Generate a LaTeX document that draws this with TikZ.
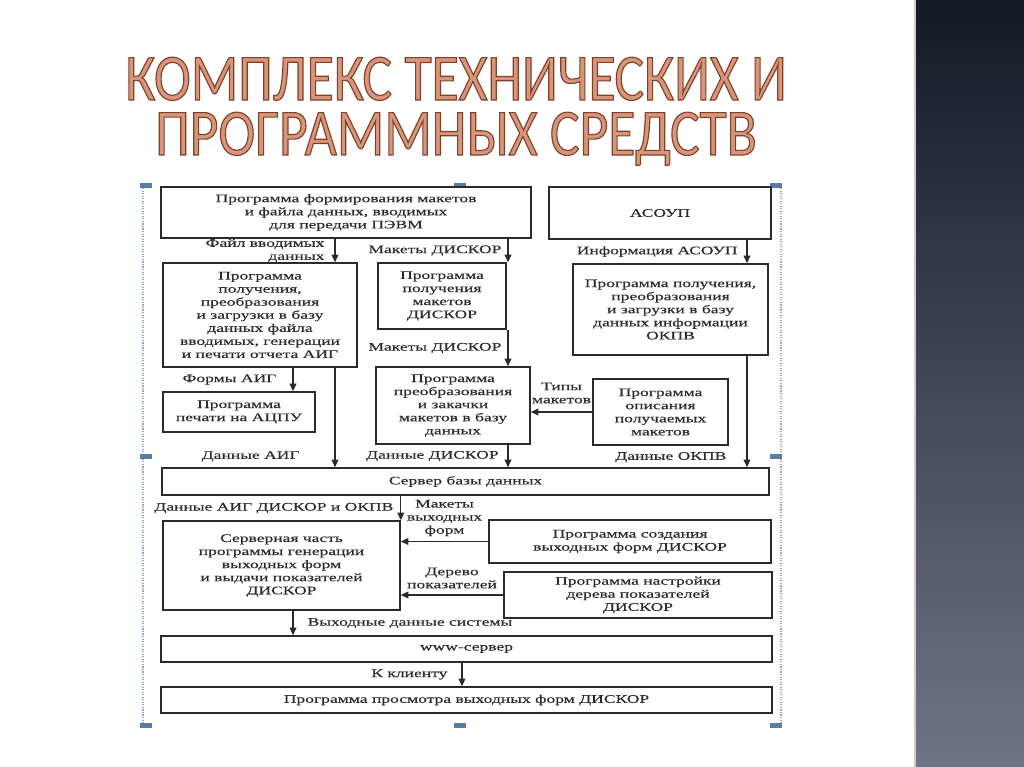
\documentclass[tikz,border=0pt]{standalone}
\usepackage{fontspec}
\usepackage{xcolor}
\usetikzlibrary{arrows.meta,calc,positioning}
\newfontfamily\scanfont[FakeStretch=1.52,FakeBold=0.3]{Liberation Serif}
\newfontfamily\titlefont[FakeStretch=0.84]{Carlito}
\definecolor{Ink}{HTML}{2B2B2B}
\definecolor{Copper}{HTML}{D9957A}
\definecolor{Handle}{HTML}{5A7DA6}
\definecolor{Frame}{HTML}{8FA8C8}
\definecolor{BandTop}{HTML}{141924}
\definecolor{BandBot}{HTML}{707485}
% outlined title letters: fill, then a thin dark brown stroke
\newcommand{\outlined}[1]{\special{pdf:literal direct 2 Tr 0.8 w 0.49 0.25 0.16 RG}#1\special{pdf:literal direct 0 Tr}}

\begin{document}
\begin{tikzpicture}[
  x=0.025cm,y=-0.025cm,
  box/.style={draw=Ink,line width=1.1pt,fill=white,align=center,inner sep=1pt,
    text=Ink,font=\scanfont\fontsize{8.2}{9.3}\selectfont},
  lbl/.style={inner sep=0pt,text=Ink,font=\scanfont\fontsize{8.2}{9.3}\selectfont},
  edge/.style={-{Triangle[length=1.9mm,width=1.7mm]},line width=0.85pt,draw=Ink},
  title/.style={anchor=base,inner sep=0pt,align=center,text=Copper,
    font=\titlefont\fontsize{47}{39.1}\selectfont},
  handle/.style={fill=Handle,draw=none},
  frame/.style={densely dotted,line width=0.8pt,draw=Frame}
]
\useasboundingbox (0,0) rectangle (1024,767);

% Slide: dark band and title.
\shade[top color=BandTop,bottom color=BandBot] (915,0) rectangle (1024,767);
\draw[gray!40,line width=1pt] (915,0) -- (915,767);
\node[title] (heading) at (456,155)
  {\outlined{КОМПЛЕКС ТЕХНИЧЕСКИХ И}\\\outlined{ПРОГРАММНЫХ СРЕДСТВ}};

% Selection frame round the scan.
\draw[frame] (143,188) -- (143,723);
\draw[frame] (781,188) -- (781,723);
\foreach \hx/\hy in {146/185.5,460/185.5,776/185.5,146/456.5,776/456.5,146/725.5,460/725.5,776/725.5}
  \fill[handle] (\hx-6,\hy-2.5) rectangle (\hx+6,\hy+2.5);

% Columns of the vertical connectors.
\coordinate (c1) at (293,0);
\coordinate (c2) at (335,0);
\coordinate (c3) at (508,0);
\coordinate (c4) at (747,0);
\coordinate (c6) at (462,0);

% Upper row: sources of data.
\node[box,minimum width=9.25cm,minimum height=1.275cm] (form) at (346,212.5)
  {Программа формирования макетов\\и файла данных, вводимых\\для передачи ПЭВМ};
\node[box,minimum width=5.55cm,minimum height=1.3cm] (asoup) at (660,213) {АСОУП};

% Loading programs.
\node[box,minimum width=4.85cm,minimum height=2.6cm] (aig) at (260,315)
  {Программа\\получения,\\преобразования\\и загрузки в базу\\данных файла\\вводимых, генерации\\и печати отчета АИГ};
\node[box,minimum width=3.2cm,minimum height=1.65cm] (polmak) at (442,296)
  {Программа\\получения\\макетов\\ДИСКОР};
\node[box,minimum width=4.875cm,minimum height=2.275cm] (okpv) at (670.5,309.5)
  {Программа получения,\\преобразования\\и загрузки в базу\\данных информации\\ОКПВ};
\node[box,minimum width=3.8cm,minimum height=1cm] (acpu) at (239,412)
  {Программа\\печати на АЦПУ};
\node[box,minimum width=3.85cm,minimum height=1.925cm] (zak) at (453,405.5)
  {Программа\\преобразования\\и закачки\\макетов в базу\\данных};
\node[box,minimum width=3.375cm,minimum height=1.65cm] (opis) at (660.5,412)
  {Программа\\описания\\получаемых\\макетов};

% Database server and output side.
\node[box,minimum width=15.175cm,minimum height=0.675cm] (server) at (465.5,481.5)
  {Сервер базы данных};
\node[box,minimum width=5.925cm,minimum height=2.225cm] (gen) at (281.5,565.5)
  {Серверная часть\\программы генерации\\выходных форм\\и выдачи показателей\\ДИСКОР};
\node[box,minimum width=7.05cm,minimum height=1.075cm] (sozd) at (630,541.5)
  {Программа создания\\выходных форм ДИСКОР};
\node[box,minimum width=6.7cm,minimum height=1.15cm] (nast) at (638,595)
  {Программа настройки\\дерева показателей\\ДИСКОР};
\node[box,minimum width=15.275cm,minimum height=0.65cm] (www) at (466.5,649) {www-сервер};
\node[box,minimum width=15.275cm,minimum height=0.65cm] (view) at (466.5,700)
  {Программа просмотра выходных форм ДИСКОР};

% Connectors.
\draw[edge] (form.south -| c2) -- node[lbl,left=0.25cm,align=right]{Файл вводимых\\данных} (aig.north -| c2);
\draw[edge] (form.south -| c3) -- node[lbl,left=0.15cm]{Макеты ДИСКОР} (polmak.north -| c3);
\draw[edge] (asoup.south -| c4) -- node[lbl,left=0.22cm]{Информация АСОУП} (okpv.north -| c4);
\draw[edge] (polmak.south -| c3) -- node[lbl,left=0.15cm]{Макеты ДИСКОР} (zak.north -| c3);
\draw[edge] (aig.south -| c1) -- node[lbl,left=0.4cm]{Формы АИГ} (acpu.north -| c1);
\draw[edge] (aig.south -| c2) -- node[lbl,left=0.87cm,pos=0.89]{Данные АИГ} (server.north -| c2);
\draw[edge] (zak.south -| c3) -- node[lbl,left=0.22cm]{Данные ДИСКОР} (server.north -| c3);
\draw[edge] (okpv.south -| c4) -- node[lbl,left=0.5cm,pos=0.91]{Данные ОКПВ} (server.north -| c4);
\draw[edge] (opis.west) -- node[lbl,above=0.2cm,align=center]{Типы\\макетов} (zak.east |- opis.west);
\draw[edge] (server.south -| gen.east) -- node[lbl,left=0.17cm]{Данные АИГ ДИСКОР и ОКПВ} (gen.north east);
\draw[edge] (sozd.west) -- node[lbl,above=0.12cm,align=center]{Макеты\\выходных\\форм} (gen.east |- sozd.west);
\draw[edge] (nast.west) -- node[lbl,above=0.15cm,align=center]{Дерево\\показателей} (gen.east |- nast.west);
\draw[edge] (gen.south -| c1) -- node[lbl,right=0.35cm]{Выходные данные системы} (www.north -| c1);
\draw[edge] (www.south -| c6) -- node[lbl,left=0.35cm]{К клиенту} (view.north -| c6);
\end{tikzpicture}
\end{document}
